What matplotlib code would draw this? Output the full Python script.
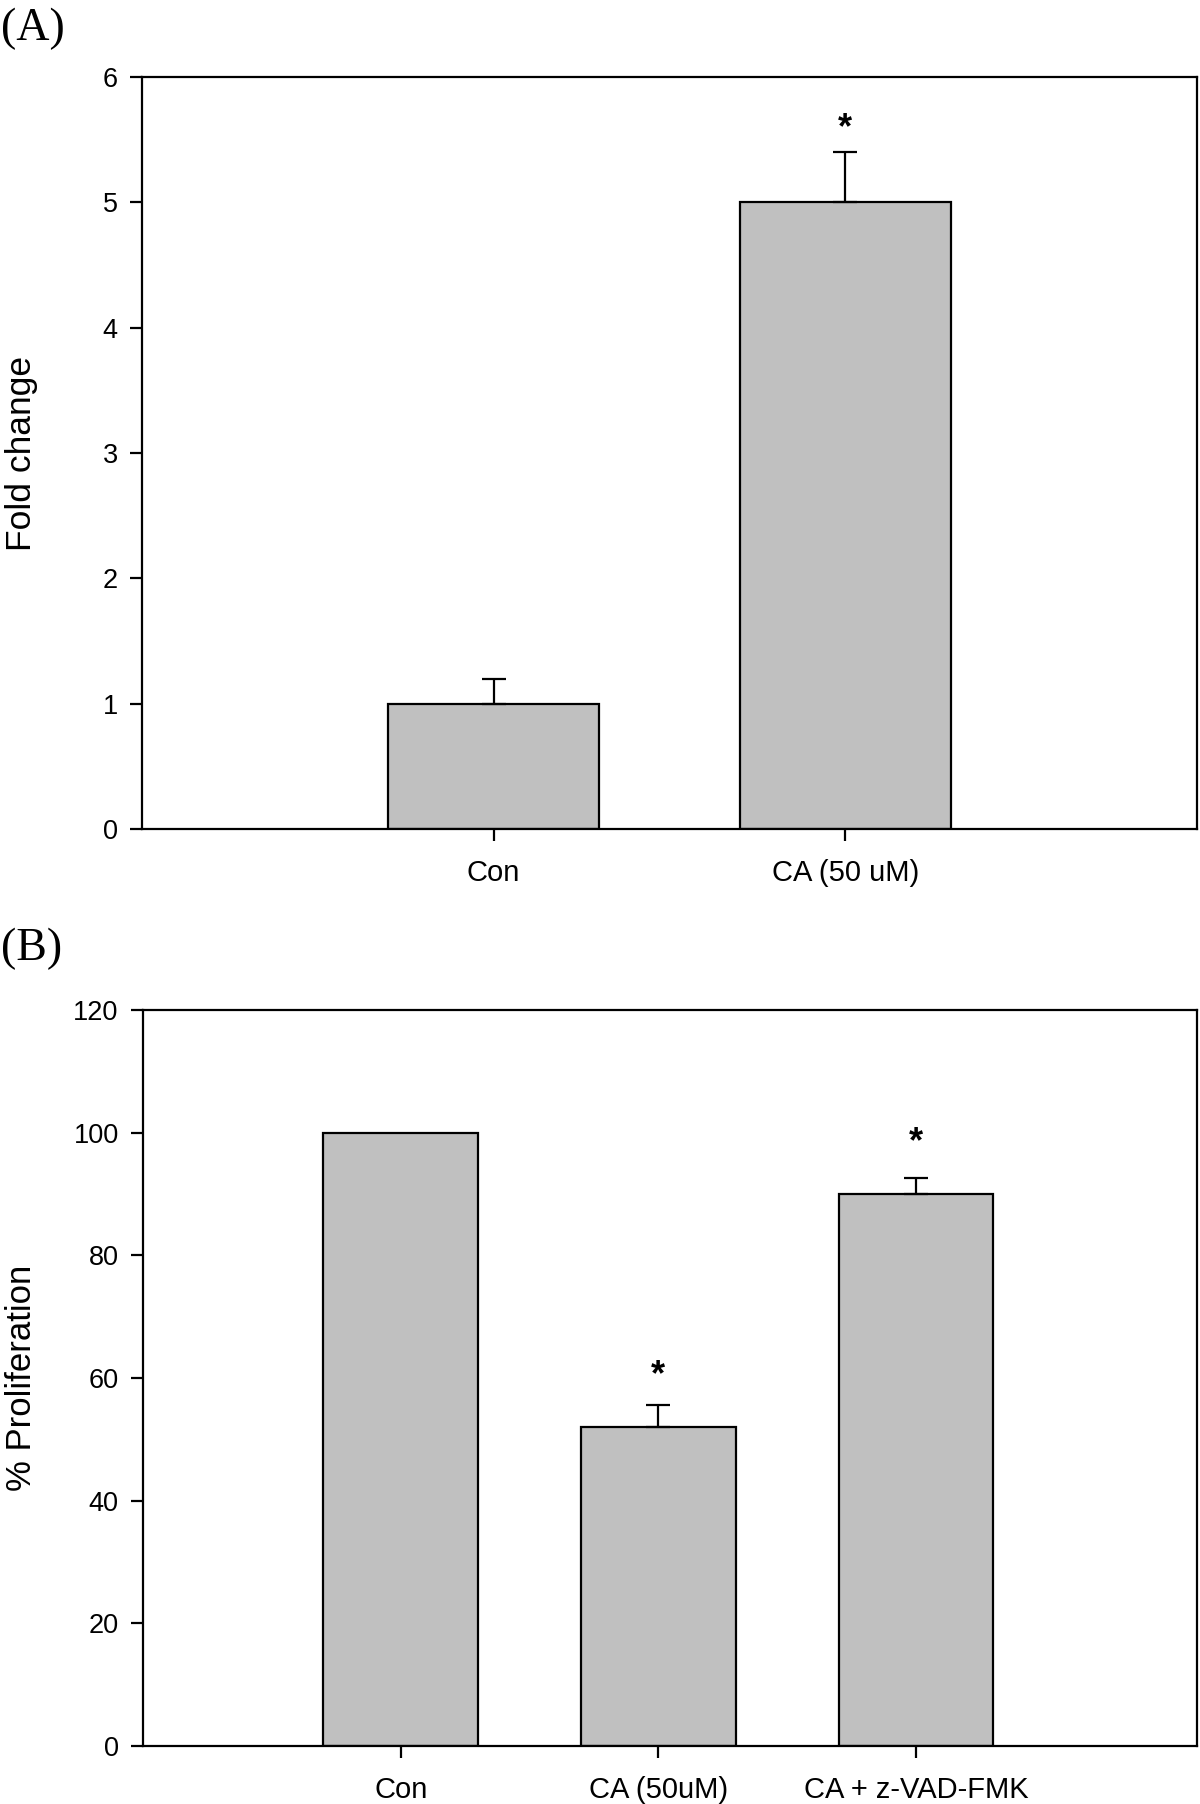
import matplotlib
matplotlib.use("Agg")
from matplotlib import pyplot as plt

plt.rcParams['font.family'] = ['Liberation Sans', 'DejaVu Sans']

# Panel A data
a_labels = ["Con", "CA (50 uM)"]
a_values = [1.0, 5.0]
a_errors = [0.2, 0.4]
a_star_y = [None, 5.59]  # height of the significance mark

# Panel B data
b_labels = ["Con", "CA (50uM)", "CA + z-VAD-FMK"]
b_values = [100.0, 52.0, 90.0]
b_errors = [0.0, 3.6, 2.65]
b_star_y = [None, 60.4, 98.4]

W, H = 1200, 1804
fig = plt.figure(figsize=(W / 100, H / 100), dpi=100)

LW = 1.6
BAR_COLOR = "#c0c0c0"


def px_axes(left, top, right, bottom):
    return fig.add_axes([left / W, 1 - bottom / H, (right - left) / W, (bottom - top) / H])


def draw_panel(ax, labels, values, errors, star_y, ylim, yticks, xlim):
    x = list(range(len(values)))
    ax.bar(x, values, width=0.6, color=BAR_COLOR, edgecolor="black", linewidth=LW, zorder=2)
    for xi, v, e in zip(x, values, errors):
        if e > 0:
            ax.errorbar(xi, v, yerr=[[0], [e]], fmt="none", ecolor="black",
                        elinewidth=LW, capsize=8.4, capthick=LW, zorder=3)
    for xi, sy in zip(x, star_y):
        if sy is not None:
            ax.text(xi, sy, "*", ha="center", va="center", fontsize=26, fontweight="bold")
    ax.set_xlim(*xlim)
    ax.set_ylim(*ylim)
    ax.set_yticks(yticks)
    ax.set_xticks(x)
    ax.set_xticklabels(labels)
    for sp in ax.spines.values():
        sp.set_linewidth(LW)
    ax.tick_params(axis="both", direction="out", length=8.5, width=LW)
    ax.tick_params(axis="y", pad=9, labelsize=19.5)
    ax.tick_params(axis="x", pad=13, labelsize=21)


axA = px_axes(142, 77, 1197, 829)
draw_panel(axA, a_labels, a_values, a_errors, a_star_y, (0, 6), range(0, 7), (-1, 2))
axB = px_axes(143, 1010, 1197, 1746)
draw_panel(axB, b_labels, b_values, b_errors, b_star_y, (0, 120), range(0, 121, 20), (-1, 3.09))

fig.text(22 / W, 1 - 453 / H, "Fold change", rotation=90, ha="center", va="center", fontsize=25.5)
fig.text(22 / W, 1 - 1378 / H, "% Proliferation", rotation=90, ha="center", va="center", fontsize=25)

fig.text(1 / W, 1 - 8 / H, "(A)", ha="left", va="top", fontsize=33, family=["Liberation Serif", "DejaVu Serif"])
fig.text(1 / W, 1 - 928 / H, "(B)", ha="left", va="top", fontsize=33, family=["Liberation Serif", "DejaVu Serif"])

plt.savefig("out.png", dpi=100)
